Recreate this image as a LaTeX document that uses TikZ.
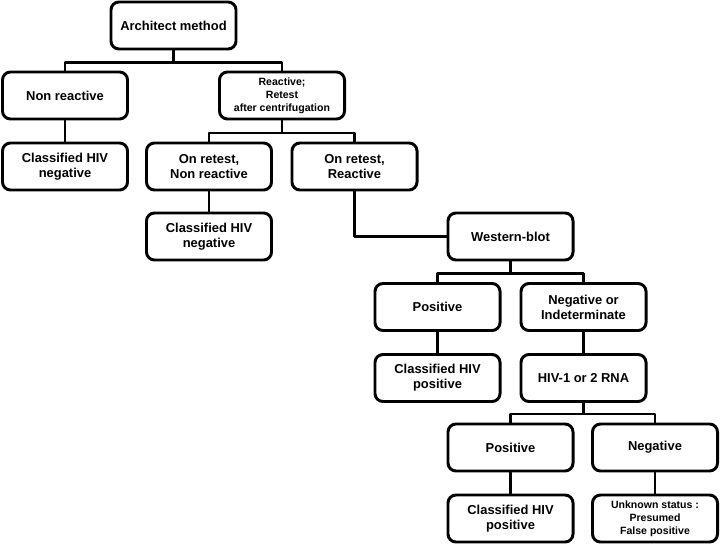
\documentclass[tikz,border=0pt]{standalone}
\usepackage{fontspec}
\setmainfont{Liberation Sans}

\tikzset{
  box/.style={draw,line width=2.1pt,rounded corners=0.2cm,minimum width=3.125cm,
    minimum height=1.175cm,align=center,inner sep=1pt,
    font=\bfseries\fontsize{9.2}{10.8}\selectfont},
  smallbox/.style={box,font=\bfseries\fontsize{7.5}{9.3}\selectfont},
  link/.style={line width=2.1pt}
}

\begin{document}
\begin{tikzpicture}[x=0.025cm,y=-0.025cm,line cap=round,line join=round]
  \useasboundingbox (0,0) rectangle (720,544);
  % first test
  \node[box] (arch) at (173.5,25.5) {Architect method};
  \node[box] (nonr) at (65,95.5) {Non reactive};
  \node[smallbox] (react) at (282,95.5) {Reactive;\\Retest\\after centrifugation};
  \node[box] (negA) at (65,166.5) {Classified HIV\\negative};
  % retest
  \node[box] (retn) at (209,166.5) {On retest,\\Non reactive};
  \node[box] (retr) at (354.5,166.5) {On retest,\\Reactive};
  \node[box] (negB) at (209,236.5) {Classified HIV\\negative};
  % confirmation
  \node[box] (wb) at (510.5,236.5) {Western-blot};
  \node[box] (wbpos) at (437.5,307) {Positive};
  \node[box] (wbneg) at (583.5,307) {Negative or\\Indeterminate};
  \node[box] (posA) at (437.5,378) {Classified HIV\\positive};
  \node[box] (rna) at (583.5,378) {HIV-1 or 2 RNA};
  \node[box] (rnapos) at (510.5,447.5) {Positive};
  \node[box] (rnaneg) at (655,447.5) {Negative};
  \node[box] (posB) at (510.5,518.5) {Classified HIV\\positive};
  \node[smallbox] (unk) at (655,518.5) {Unknown status :\\Presumed\\False positive};

  \draw[link] (arch.south) -- ++(0,12) -| (nonr.north);
  \draw[link] (arch.south) -- ++(0,12) -| (react.north);
  \draw[link] (nonr) -- (negA);
  \draw[link] (react.south) -- ++(0,12.5) -| (retn.north);
  \draw[link] (react.south) -- ++(0,12.5) -| (retr.north);
  \draw[link] (retn) -- (negB);
  \draw[link] (retr.south) |- (wb.west);
  \draw[link] (wb.south) -- ++(0,12) -| (wbpos.north);
  \draw[link] (wb.south) -- ++(0,12) -| (wbneg.north);
  \draw[link] (wbpos) -- (posA);
  \draw[link] (wbneg) -- (rna);
  \draw[link] (rna.south) -- ++(0,11) -| (rnapos.north);
  \draw[link] (rna.south) -- ++(0,11) -| (rnaneg.north);
  \draw[link] (rnapos) -- (posB);
  \draw[link] (rnaneg) -- (unk);
\end{tikzpicture}
\end{document}
